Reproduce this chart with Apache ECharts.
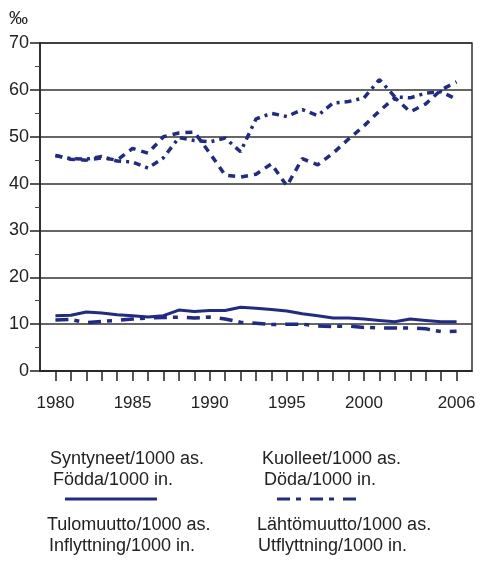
<!DOCTYPE html>
<html><head><meta charset="utf-8">
<script src="https://cdn.jsdelivr.net/npm/echarts@6/dist/echarts.min.js"></script>
<style>html,body{margin:0;padding:0;background:#fff}#c{width:486px;height:563px}</style>
</head><body><div id="c"></div>
<script>
const years = [1980,1981,1982,1983,1984,1985,1986,1987,1988,1989,1990,1991,1992,1993,1994,1995,1996,1997,1998,1999,2000,2001,2002,2003,2004,2005,2006];
const xTickLabels = [1980,1985,1990,1995,2000,2006];
const yTicks = [0,10,20,30,40,50,60,70];
const births = [11.8,11.9,12.6,12.4,12.0,11.8,11.5,11.8,13.0,12.7,12.9,12.9,13.6,13.4,13.1,12.8,12.2,11.8,11.3,11.3,11.1,10.8,10.5,11.1,10.8,10.5,10.5];
const deaths = [10.9,11.0,10.3,10.6,10.8,11.1,11.3,11.4,11.5,11.3,11.5,11.1,10.4,10.2,9.9,10.0,10.0,9.6,9.5,9.6,9.3,9.2,9.2,9.2,9.0,8.4,8.5];
const inMigration = [46.0,45.3,45.2,45.8,44.8,44.6,43.3,45.5,49.8,49.2,48.9,49.7,46.8,53.8,55.0,54.3,55.8,54.5,57.2,57.5,58.3,62.2,58.5,58.3,59.3,59.6,58.0];
const outMigration = [46.0,45.2,45.0,45.5,45.0,47.5,46.5,50.0,50.8,51.0,46.5,41.8,41.4,42.0,44.2,39.5,45.3,44.0,46.5,49.5,52.3,55.5,58.3,55.3,57.0,60.0,61.7];
const legendLabels = [
  ['Syntyneet/1000 as.','Födda/1000 in.'],
  ['Kuolleet/1000 as.','Döda/1000 in.'],
  ['Tulomuutto/1000 as.','Inflyttning/1000 in.'],
  ['Lähtömuutto/1000 as.','Utflyttning/1000 in.']
];
const navy = '#1f2a8c';
const ink = '#222';
const deathDash = [13,6,5,9];
const pair = a => years.map((y,i)=>[y,a[i]]);
const chart = echarts.init(document.getElementById('c'));
const lfont = '18px "Liberation Sans", Arial, sans-serif';
// y = baseline of text
function txt(x,y,t){return {type:'text',style:{x:x,y:y-15,text:t,font:lfont,fill:ink,verticalAlign:'top'}};}
chart.setOption({
  animation:false,
  grid:{left:40,right:14,top:43,bottom:192,show:true,borderColor:'#333',borderWidth:1.5},
  xAxis:{type:'value',min:1979,max:2007,
    axisLine:{lineStyle:{color:'#222',width:1.5}},
    axisTick:{show:true,inside:false,length:10,customValues:years,lineStyle:{color:'#222',width:1.5}},
    axisLabel:{customValues:xTickLabels,formatter:v=>String(v),color:ink,fontSize:17,fontFamily:'Liberation Sans',margin:24},
    splitLine:{show:false}},
  yAxis:{type:'value',min:0,max:70,interval:10,
    axisLine:{show:true,lineStyle:{color:'#222',width:1.5}},
    axisTick:{show:true,length:10,customValues:yTicks,lineStyle:{color:'#222',width:1.5}},
    minorTick:{show:true,splitNumber:2,length:5,lineStyle:{color:'#444',width:1}},
    axisLabel:{color:ink,fontSize:18,fontFamily:'Liberation Sans',margin:11},
    splitLine:{show:true,lineStyle:{color:'#333',width:1.5}}},
  series:[
    {name:legendLabels[0][0],type:'line',data:pair(births),symbol:'none',lineStyle:{color:navy,width:3}},
    {name:legendLabels[1][0],type:'line',data:pair(deaths),symbol:'none',lineStyle:{color:navy,width:3.5,type:deathDash}},
    {name:legendLabels[2][0],type:'line',data:pair(inMigration),symbol:'none',lineStyle:{color:navy,width:3.5,type:[7,5,3,5]}},
    {name:legendLabels[3][0],type:'line',data:pair(outMigration),symbol:'none',lineStyle:{color:navy,width:3.5,type:[7,6]}}
  ],
  graphic:[
    {type:'text',style:{x:9,y:9,text:'‰',font:'19px "Liberation Sans", Arial, sans-serif',fill:ink,verticalAlign:'top'}},
    txt(50,465,legendLabels[0][0]), txt(53,486,legendLabels[0][1]),
    txt(262,465,legendLabels[1][0]), txt(264,486,legendLabels[1][1]),
    txt(47,531,legendLabels[2][0]), txt(49,552,legendLabels[2][1]),
    txt(257,531,legendLabels[3][0]), txt(258,552,legendLabels[3][1]),
    {type:'line',shape:{x1:65,y1:499,x2:157,y2:499},style:{stroke:navy,lineWidth:3}},
    {type:'line',shape:{x1:277,y1:499,x2:357,y2:499},style:{stroke:navy,lineWidth:3,lineDash:deathDash}}
  ]
});
</script></body></html>
